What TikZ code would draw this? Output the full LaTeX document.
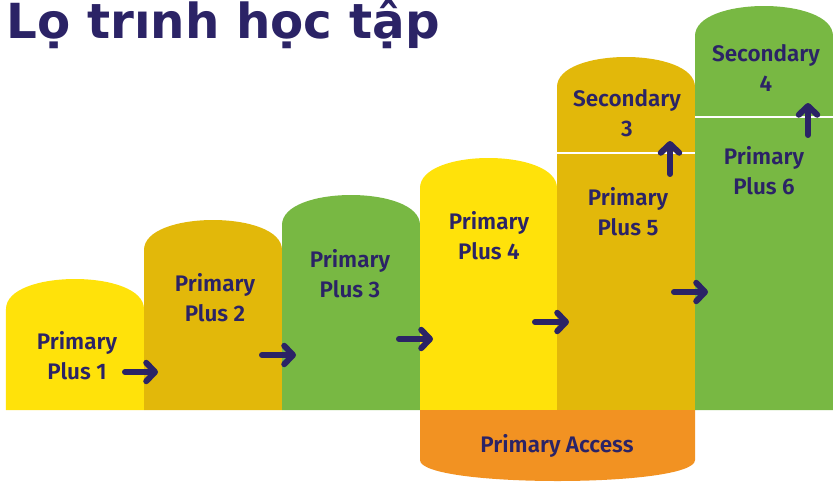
\documentclass[tikz,border=0pt]{standalone}
\usepackage{fontspec}
\setmainfont{Fira Sans}[BoldFont={Fira Sans SemiBold}]
\newfontfamily\titlefont{DejaVu Sans Bold}
\usetikzlibrary{arrows.meta}
\definecolor{navy}{HTML}{2B2366}
\definecolor{lemon}{HTML}{FFE20A}
\definecolor{gold}{HTML}{E2B80A}
\definecolor{leaf}{HTML}{78B843}
\definecolor{tangerine}{HTML}{F29222}

\begin{document}
\begin{tikzpicture}[x=0.02cm, y=-0.02cm,
                    main node/.style={align=center, text=navy, inner sep=0pt,
                                      font=\bfseries\fontsize{12.8}{17}\selectfont},
                    step arrow/.style={draw=navy, line width=3.4pt, line cap=round,
                                       -{Straight Barb[length=5pt, width=10.5pt, round]}}]
  \useasboundingbox (0,0) rectangle (833,481);

  % columns
  \fill[lemon] (6,410) -- (6,309) .. controls (6,269) and (144,269) .. (144,309) -- (144,410) -- cycle;
  \fill[gold]  (144,410) -- (144,250) .. controls (144,210) and (282,210) .. (282,250) -- (282,410) -- cycle;
  \fill[leaf]  (282,410) -- (282,225) .. controls (282,185) and (420,185) .. (420,225) -- (420,410) -- cycle;
  \fill[lemon] (420,410) -- (420,188) .. controls (420,148) and (557,148) .. (557,188) -- (557,410) -- cycle;
  \fill[gold]  (557,410) -- (557,87) .. controls (557,47) and (695,47) .. (695,87) -- (695,410) -- cycle;
  \fill[leaf]  (695,410) -- (695,36) .. controls (695,-4) and (833,-4) .. (833,36) -- (833,410) -- cycle;
  \fill[tangerine] (420,410) -- (420,460) .. controls (420,488) and (695,488) .. (695,460) -- (695,410) -- cycle;
  \draw[white, line width=1.2pt] (557,153) -- (695,153);
  \draw[white, line width=1.2pt] (695,117) -- (833,117);

  \node[anchor=base west, inner sep=0pt, text=navy, font=\titlefont\fontsize{27.5}{27.5}\selectfont]
    (title) at (6,38) {Lọ trınh học tập};

  \node[main node] (p1) at (77,356) {Primary\\Plus 1};
  \node[main node] (p2) at (215,298) {Primary\\Plus 2};
  \node[main node] (p3) at (350,274) {Primary\\Plus 3};
  \node[main node] (p4) at (489,236) {Primary\\Plus 4};
  \node[main node] (p5) at (628,212) {Primary\\Plus 5};
  \node[main node] (s3) at (627,113) {Secondary\\3};
  \node[main node] (p6) at (764,171) {Primary\\Plus 6};
  \node[main node] (s4) at (766,68) {Secondary\\4};
  \node[main node] (pa) at (557,446) {Primary Access};

  % arrows
  \coordinate (a1) at (125,372); \coordinate (b1) at (158,372);
  \coordinate (a2) at (262,355); \coordinate (b2) at (296,355);
  \coordinate (a3) at (399,339); \coordinate (b3) at (433,339);
  \coordinate (a4) at (535,322); \coordinate (b4) at (569,322);
  \coordinate (a5) at (674,292); \coordinate (b5) at (708,292);
  \coordinate (a6) at (670,174); \coordinate (b6) at (670,141);
  \coordinate (a7) at (808,135); \coordinate (b7) at (808,103);
  \draw[step arrow] (a1) -- (b1);
  \draw[step arrow] (a2) -- (b2);
  \draw[step arrow] (a3) -- (b3);
  \draw[step arrow] (a4) -- (b4);
  \draw[step arrow] (a5) -- (b5);
  \draw[step arrow] (a6) -- (b6);
  \draw[step arrow] (a7) -- (b7);
\end{tikzpicture}
\end{document}
